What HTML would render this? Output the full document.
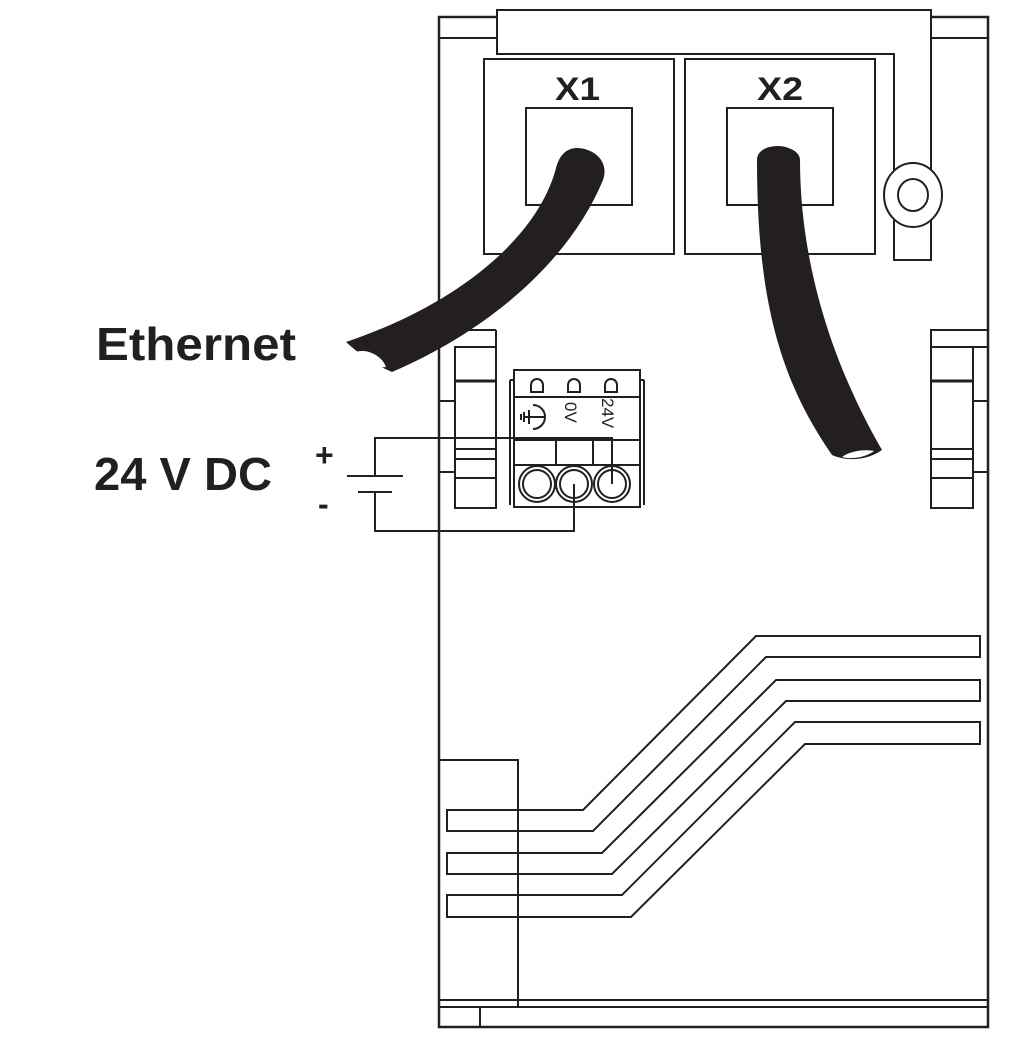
<!DOCTYPE html>
<html><head><meta charset="utf-8"><style>
html,body{margin:0;padding:0;background:#fff;}
svg{display:block;}
text{font-family:"Liberation Sans",sans-serif;font-weight:bold;fill:#231f20;}
</style></head><body>
<svg width="1028" height="1049" viewBox="0 0 1028 1049" xmlns="http://www.w3.org/2000/svg">
<g fill="none" stroke="#231f20" stroke-width="2">
<rect x="439" y="17" width="549" height="1010" stroke-width="2.5"/>
<line x1="439" y1="38" x2="497" y2="38"/>
<line x1="931" y1="38" x2="988" y2="38"/>
<path d="M497 54 V10 H931 V260 H894 V54 Z" fill="#fff"/>
<rect x="484" y="59" width="190" height="195"/>
<rect x="685" y="59" width="190" height="195"/>
<rect x="526" y="108" width="106" height="97"/>
<rect x="727" y="108" width="106" height="97"/>
<ellipse cx="913" cy="195" rx="29" ry="32" fill="#fff"/>
<ellipse cx="913" cy="195" rx="15" ry="16"/>
<rect x="455" y="347" width="41" height="161"/>
<line x1="455" y1="330" x2="496" y2="330"/><line x1="496" y1="330" x2="496" y2="347"/>
<line x1="455" y1="381" x2="496" y2="381" stroke-width="3"/>
<line x1="455" y1="449" x2="496" y2="449"/>
<line x1="455" y1="459" x2="496" y2="459"/>
<line x1="455" y1="478" x2="496" y2="478"/>
<line x1="439" y1="401" x2="455" y2="401"/>
<line x1="439" y1="472" x2="455" y2="472"/>
<rect x="931" y="330" width="57" height="17"/>
<rect x="931" y="347" width="42" height="161"/>
<line x1="931" y1="381" x2="973" y2="381" stroke-width="3"/>
<line x1="931" y1="449" x2="973" y2="449"/>
<line x1="931" y1="459" x2="973" y2="459"/>
<line x1="931" y1="478" x2="973" y2="478"/>
<line x1="973" y1="401" x2="988" y2="401"/>
<line x1="973" y1="472" x2="988" y2="472"/>
<rect x="514" y="370" width="126" height="137" fill="#fff"/>
<line x1="514" y1="397" x2="640" y2="397"/>
<line x1="514" y1="440" x2="640" y2="440"/>
<line x1="514" y1="465" x2="640" y2="465"/>
<line x1="556" y1="440" x2="556" y2="465"/><line x1="593" y1="440" x2="593" y2="465"/>
<line x1="640" y1="380" x2="644" y2="380"/><line x1="644" y1="380" x2="644" y2="505"/>
<line x1="514" y1="380" x2="510" y2="380"/><line x1="510" y1="380" x2="510" y2="505"/>
<path d="M531 392 V385 A6 6 0 0 1 543 385 V392 Z"/>
<path d="M568 392 V385 A6 6 0 0 1 580 385 V392 Z"/>
<path d="M605 392 V385 A6 6 0 0 1 617 385 V392 Z"/>
<circle cx="537" cy="484" r="18"/><circle cx="537" cy="484" r="14"/>
<circle cx="574" cy="484" r="18"/><circle cx="574" cy="484" r="14"/>
<circle cx="612" cy="484" r="18"/><circle cx="612" cy="484" r="14"/>
<line x1="529" y1="410" x2="529" y2="424"/>
<line x1="524" y1="412" x2="524" y2="422"/>
<line x1="521" y1="414" x2="521" y2="420"/>
<line x1="524" y1="417" x2="544" y2="417"/>
<path d="M533 405 A12 12 0 0 1 533 429"/>
<path d="M375 476 V438 H612 V484"/>
<path d="M375 492 V531 H574 V484"/>
<line x1="347" y1="476" x2="403" y2="476"/>
<line x1="358" y1="492" x2="392" y2="492"/>
<path d="M447 810 H583 L756 636 H980 V657 H766 L593 831 H447 Z"/>
<path d="M447 853 H602 L776 680 H980 V701 H786 L612 874 H447 Z"/>
<path d="M447 895 H622 L795 722 H980 V744 H805 L631 917 H447 Z"/>
<path d="M439 760 H518 V1007 H480 V1027"/>
<line x1="439" y1="1000" x2="988" y2="1000"/>
<line x1="439" y1="1007" x2="988" y2="1007"/>
</g>
<text x="565" y="402" transform="rotate(90 565 402)" style="font-weight:normal" font-size="17">0V</text>
<text x="602" y="398" transform="rotate(90 602 398)" style="font-weight:normal" font-size="17">24V</text>
<path d="M556 168 C540 230 470 300 346 342 C360 355 375 365 392 372 C490 330 570 260 603 180 C610 160 592 148 577 148 C566 148 559 156 556 168 Z" fill="#231f20"/>
<path d="M355 352 C368 348 382 356 386 367 C373 369 360 362 355 352 Z" fill="#fff"/>
<path d="M757 160 C757 300 780 380 832 455 C848 462 868 460 882 450 C830 360 800 260 800 160 C800 150 785 146 778 146 C768 146 757 150 757 160 Z" fill="#231f20"/>
<path d="M842 457 C850 451 864 449 874 451 C866 457 852 460 842 457 Z" fill="#fff"/>
<text x="555" y="100" font-size="32" textLength="45" lengthAdjust="spacingAndGlyphs">X1</text>
<text x="757" y="100" font-size="32" textLength="46" lengthAdjust="spacingAndGlyphs">X2</text>
<text x="96" y="360" font-size="46" textLength="200" lengthAdjust="spacingAndGlyphs">Ethernet</text>
<text x="94" y="490" font-size="46" textLength="178" lengthAdjust="spacingAndGlyphs">24 V DC</text>
<text x="315" y="466" font-size="32">+</text>
<text x="318" y="515" font-size="32">-</text>
</svg>
</body></html>
